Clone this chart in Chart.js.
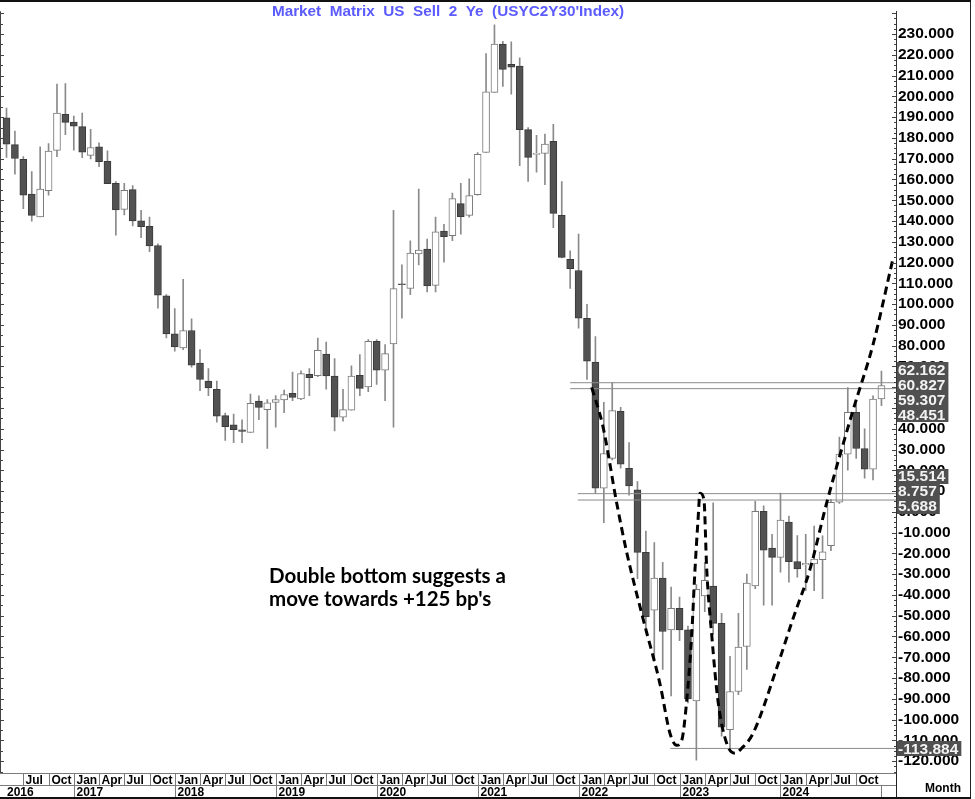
<!DOCTYPE html>
<html>
<head>
<meta charset="utf-8">
<script src="https://cdn.jsdelivr.net/npm/chart.js@4.4.1/dist/chart.umd.min.js"></script>
<style>
  html, body { margin: 0; padding: 0; background: #fff; }
  #chart { display: block; }
</style>
</head>
<body>
<canvas id="chart" width="975" height="799"></canvas>
<script>
// monthly candles, May 2016 .. Jan 2025
const months = [
  '2016-05','2016-06','2016-07','2016-08','2016-09','2016-10','2016-11','2016-12',
  '2017-01','2017-02','2017-03','2017-04','2017-05','2017-06','2017-07','2017-08','2017-09','2017-10','2017-11','2017-12',
  '2018-01','2018-02','2018-03','2018-04','2018-05','2018-06','2018-07','2018-08','2018-09','2018-10','2018-11','2018-12',
  '2019-01','2019-02','2019-03','2019-04','2019-05','2019-06','2019-07','2019-08','2019-09','2019-10','2019-11','2019-12',
  '2020-01','2020-02','2020-03','2020-04','2020-05','2020-06','2020-07','2020-08','2020-09','2020-10','2020-11','2020-12',
  '2021-01','2021-02','2021-03','2021-04','2021-05','2021-06','2021-07','2021-08','2021-09','2021-10','2021-11','2021-12',
  '2022-01','2022-02','2022-03','2022-04','2022-05','2022-06','2022-07','2022-08','2022-09','2022-10','2022-11','2022-12',
  '2023-01','2023-02','2023-03','2023-04','2023-05','2023-06','2023-07','2023-08','2023-09','2023-10','2023-11','2023-12',
  '2024-01','2024-02','2024-03','2024-04','2024-05','2024-06','2024-07','2024-08','2024-09','2024-10','2024-11','2024-12',
  '2025-01'
];

const opens = [
  189.7,176.8,169.7,153.0,142.0,154.6,174.0,191.3,187.6,185.4,171.6,175.7,
  168.7,158.1,145.6,155.1,140.1,137.5,128.2,104.0,85.7,78.9,87.3,71.6,
  63.0,59.0,46.3,41.9,39.5,38.2,53.3,49.2,52.7,53.9,57.0,54.4,
  66.2,65.6,75.9,65.4,45.6,49.0,65.7,60.1,82.1,68.2,80.8,109.8,
  107.5,124.1,126.5,109.0,135.1,132.9,148.4,142.7,152.7,173.0,201.9,225.2,
  215.4,214.6,184.0,172.0,172.5,178.4,142.7,121.5,116.2,93.2,72.1,11.4,
  25.7,48.4,21.0,10.6,-19.5,-47.3,-31.9,-56.8,-46.5,-56.8,-91.0,-40.5,
  -35.7,-53.7,-104.9,-86.5,-64.8,-35.7,0.3,-17.5,-21.9,-4.9,-24.0,-25.6,
  -25.1,-23.0,-16.3,4.6,27.8,47.9,30.5,20.6,54.3
];
const highs = [
  194.4,183.3,171.0,163.8,175.7,177.3,205.9,206.2,190.5,192.0,184.1,177.6,
  173.8,159.0,158.1,157.1,145.2,141.9,129.0,104.6,97.9,111.9,92.9,78.1,
  69.0,63.0,47.6,47.1,44.3,56.7,55.9,54.1,56.0,58.6,67.3,67.9,
  69.0,83.7,81.7,73.8,59.0,70.3,75.7,82.9,82.9,80.5,145.2,118.9,
  130.5,155.4,131.3,141.9,138.4,153.5,158.2,160.3,173.0,220.6,234.4,226.5,
  226.2,218.6,185.0,181.3,181.8,186.5,159.0,125.7,133.7,99.9,84.4,52.7,
  62.2,50.3,33.3,14.6,-9.2,-14.8,-24.3,-36.2,-41.0,-55.0,-35.0,-24.3,
  4.3,-48.9,-69.5,-48.9,-29.9,5.1,2.9,-10.8,9.0,-2.0,-11.4,-10.8,
  -6.8,-11.6,6.0,36.0,59.8,51.9,40.0,55.9,67.8
];
const lows = [
  170.6,162.5,145.9,139.9,142.0,152.5,171.0,181.6,174.1,170.5,169.9,166.2,
  158.0,133.2,142.9,137.6,132.0,125.2,98.0,83.7,77.3,78.1,69.7,58.3,
  55.9,43.2,34.4,33.3,33.3,38.2,44.4,30.5,40.8,47.8,53.5,54.0,
  55.9,65.1,59.0,38.9,43.7,49.0,55.9,57.9,61.4,53.5,40.8,93.2,
  104.6,118.9,105.9,105.9,120.2,130.5,133.7,141.9,152.5,173.0,201.9,204.8,
  201.1,166.7,159.0,163.5,157.5,136.8,122.2,107.5,88.4,63.8,9.0,-5.2,
  25.0,21.0,8.0,-32.2,-56.0,-71.9,-75.9,-88.6,-62.0,-92.0,-119.5,-48.1,
  -59.0,-108.0,-113.9,-88.0,-75.9,-37.0,-44.9,-44.9,-29.0,-33.8,-31.4,-38.0,
  -38.0,-41.8,-18.7,4.0,20.1,25.7,16.2,15.4,51.1
];
const closes = [
  177.0,170.1,152.5,142.7,155.4,173.7,192.0,187.5,185.7,173.2,175.4,168.6,
  158.0,145.4,154.8,140.0,137.3,128.0,104.3,85.7,79.4,87.3,70.6,63.7,
  59.7,46.0,41.0,39.5,38.7,52.2,50.3,52.5,54.1,56.5,55.1,66.5,
  64.6,77.8,65.4,45.6,49.2,65.4,59.4,82.1,68.2,76.2,107.5,109.3,
  124.6,126.0,108.7,134.8,132.5,150.8,142.1,152.2,172.1,202.2,225.2,213.0,
  214.1,184.0,170.6,172.6,177.0,143.7,122.5,117.0,93.2,72.5,11.4,28.1,
  48.7,22.9,12.5,-19.5,-50.5,-31.9,-57.6,-46.5,-56.8,-90.1,-37.3,-33.0,
  -53.7,-103.7,-86.5,-65.1,-34.3,0.3,-18.4,-21.9,-4.0,-24.0,-27.5,-24.8,
  -22.7,-19.2,4.6,27.8,47.9,30.5,20.6,54.3,60.827
];

// y axis tick labels
const yTicks = [230,220,210,200,190,180,170,160,150,140,130,120,110,100,90,80,70,60,50,40,
  30,20,10,0,-10,-20,-30,-40,-50,-60,-70,-80,-90,-100,-110,-120];

// horizontal levels (value, starting month index)
const levelValues = [62.162, 59.307, 8.757, 5.688, -113.884];
const levelStart = [67.0, 67.0, 67.9, 67.9, 78.9];
// highlighted price tags on the axis
const tagValues = [62.162, 60.827, 59.307, 48.451, 15.514, 8.757, 5.688, -113.884];

// hand drawn "W" (month index, value)
const wX = [69.56,70.9,72.53,73.72,75.66,77.68,78.87,79.66,80.26,80.85,81.45,81.84,82.2,82.43,
  82.9,83.23,83.82,84.57,85.6,86.59,87.39,88.73,91.55,93.49,95.51,97.49,100.6,103.0,105.4];
const wY = [59.9,41.0,4.3,-19.5,-51.4,-82.9,-106.7,-112.4,-110.0,-91.0,-59.0,-27.6,-3.8,9.0,
  5.9,-27.6,-59.0,-91.0,-111.4,-116.2,-113.8,-106.7,-75.2,-51.4,-27.6,4.3,48.6,80.5,122.4];

const TITLE = "Market  Matrix  US  Sell  2  Ye  (USYC2Y30'Index)";
const NOTE = ["Double bottom suggests a", "move towards +125 bp's"];

const AXIS_FONT = "'Liberation Sans', Arial, sans-serif";
const Y_MIN = -125.714, Y_MAX = 240.952;
const X_MIN = -0.773, X_MAX = 105.73;

const up = opens.map((o, i) => closes[i] >= o);
const bodies = opens.map((o, i) => ({ x: i, y: [o, closes[i]] }));
const wicks = lows.map((l, i) => ({ x: i, y: [l, highs[i]] }));

const levelSets = levelValues.map((v, i) => ({
  type: 'line',
  data: [{ x: levelStart[i], y: v }, { x: X_MAX, y: v }],
  borderColor: '#8c8c8c',
  borderWidth: 1,
  pointRadius: 0,
  order: 1
}));

const overlay = {
  id: 'overlay',
  afterDraw(chart) {
    const { ctx, chartArea: a, scales: { x, y } } = chart;
    ctx.save();

    // left edge ticks
    ctx.strokeStyle = '#444';
    ctx.lineWidth = 1;
    ctx.beginPath();
    ctx.moveTo(0.5, a.top); ctx.lineTo(0.5, a.bottom);
    for (let v = -125; v <= 240; v += 5) {
      const py = Math.round(y.getPixelForValue(v)) + 0.5;
      ctx.moveTo(0, py); ctx.lineTo(v % 10 === 0 ? 4 : 3, py);
    }
    // inner ticks of right axis
    for (let v = -125; v <= 240; v += 2.5) {
      const py = Math.round(y.getPixelForValue(v)) + 0.5;
      ctx.moveTo(a.right - (v % 10 === 0 ? 4 : 2), py); ctx.lineTo(a.right, py);
    }
    ctx.stroke();

    // title
    ctx.font = 'bold 15.3px ' + AXIS_FONT;
    ctx.fillStyle = '#5b5bff';
    ctx.textAlign = 'center';
    ctx.textBaseline = 'alphabetic';
    ctx.fillText(TITLE, 448, 16);

    // note
    ctx.font = "bold 20.5px Lato, 'Open Sans', sans-serif";
    ctx.fillStyle = '#000';
    ctx.textAlign = 'left';
    ctx.fillText(NOTE[0], 269, 583);
    ctx.fillText(NOTE[1], 269, 606);

    // price tags, spread so they do not overlap
    const h = 15;
    const tags = tagValues.map(v => ({ v, p: y.getPixelForValue(v) })).sort((m, n) => m.p - n.p);
    for (let it = 0; it < 200; it++) {
      for (let i = 1; i < tags.length; i++) {
        const gap = tags[i].p - tags[i - 1].p;
        if (gap < h) {
          const d = (h - gap) / 2;
          tags[i - 1].p -= d; tags[i].p += d;
        }
      }
    }
    ctx.font = 'bold 15.5px ' + AXIS_FONT;
    ctx.textBaseline = 'middle';
    tags.forEach(t => {
      const txt = t.v.toFixed(3);
      const w = ctx.measureText(txt).width;
      ctx.fillStyle = '#505050';
      ctx.fillRect(a.right + 1, Math.round(t.p - h / 2), w + 4, h);
      ctx.fillStyle = '#f2f2f2';
      ctx.fillText(txt, a.right + 2, t.p + 1);
    });

    // date band
    const top = a.bottom, mid = top + 12, bot = top + 24;
    ctx.strokeStyle = '#7a7a7a';
    ctx.beginPath();
    ctx.moveTo(0, top + 0.5); ctx.lineTo(a.right, top + 0.5);
    ctx.moveTo(0, mid + 0.5); ctx.lineTo(a.right, mid + 0.5);
    ctx.stroke();
    ctx.font = 'bold 12px ' + AXIS_FONT;
    ctx.fillStyle = '#000';
    ctx.textBaseline = 'alphabetic';
    const qName = { 1: 'Jan', 4: 'Apr', 7: 'Jul', 10: 'Oct' };
    let firstYear = true;
    months.forEach((m, i) => {
      const [yy, mm] = m.split('-').map(Number);
      const px = Math.round(x.getPixelForValue(i)) + 0.5;
      if (qName[mm] && px + 20 < a.right) {
        ctx.beginPath(); ctx.moveTo(px, top); ctx.lineTo(px, mid); ctx.stroke();
        ctx.fillText(qName[mm], px + 2, mid - 1);
      }
      if (mm === 1) {
        ctx.beginPath(); ctx.moveTo(px, mid); ctx.lineTo(px, bot); ctx.stroke();
        if (px + 30 < a.right) ctx.fillText(String(yy), px + 2, bot - 1);
      }
      if (firstYear) {
        ctx.fillText(String(yy), 7, bot - 1);
        firstYear = false;
      }
    });
    ctx.textAlign = 'center';
    ctx.fillText('Month', 943, 792);

    // frame
    ctx.strokeStyle = '#222';
    ctx.beginPath();
    ctx.moveTo(a.right + 0.5, top); ctx.lineTo(a.right + 0.5, 798);
    ctx.moveTo(970.5, 0); ctx.lineTo(970.5, 798);
    ctx.stroke();
    ctx.fillStyle = '#111';
    ctx.fillRect(0, 0, 971, 2);
    ctx.fillRect(0, 797, 971, 2);
    ctx.restore();
  }
};

new Chart(document.getElementById('chart'), {
  data: {
    datasets: [
      {
        type: 'line',
        data: wX.map((v, i) => ({ x: v, y: wY[i] })),
        borderColor: '#000',
        borderWidth: 3,
        borderDash: [8, 5],
        pointRadius: 0,
        cubicInterpolationMode: 'monotone',
        order: 0
      },
      ...levelSets,
      {
        type: 'bar',
        data: bodies,
        grouped: false,
        barThickness: 7,
        backgroundColor: up.map(u => u ? '#ffffff' : '#525252'),
        borderColor: up.map(u => u ? '#7a7a7a' : '#3a3a3a'),
        borderWidth: 1,
        borderSkipped: false,
        order: 2
      },
      {
        type: 'bar',
        data: wicks,
        grouped: false,
        barThickness: 1,
        backgroundColor: '#8a8a8a',
        order: 3
      }
    ]
  },
  options: {
    responsive: false,
    devicePixelRatio: 1,
    animation: false,
    layout: { padding: { top: 3, bottom: 26, left: 0, right: 0 } },
    plugins: { legend: { display: false }, tooltip: { enabled: false } },
    scales: {
      x: { type: 'linear', min: X_MIN, max: X_MAX, offset: false, display: false },
      y: {
        type: 'linear',
        position: 'right',
        min: Y_MIN,
        max: Y_MAX,
        afterBuildTicks: s => { s.ticks = yTicks.map(v => ({ value: v })); },
        afterFit: s => { s.width = 79; },
        grid: { drawOnChartArea: false, drawTicks: false },
        border: { display: true, color: '#333', width: 1 },
        ticks: {
          autoSkip: false,
          padding: 2,
          color: '#000',
          font: { family: AXIS_FONT, size: 15.5, weight: 'bold' },
          callback: v => v.toFixed(3)
        }
      }
    }
  },
  plugins: [overlay]
});
</script>
</body>
</html>
